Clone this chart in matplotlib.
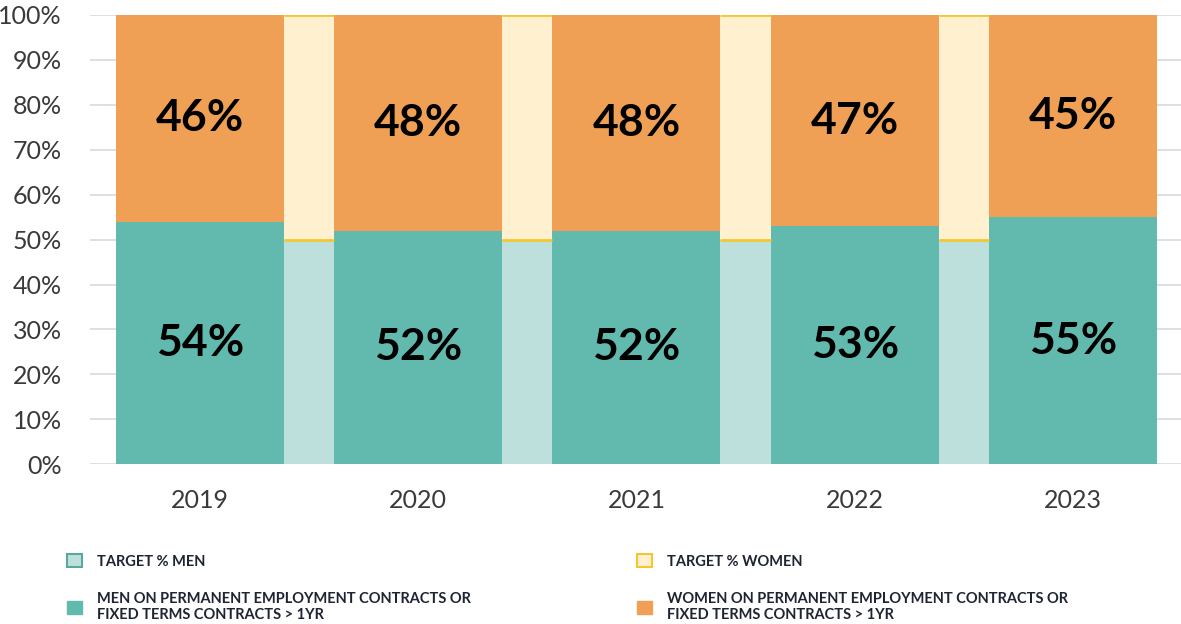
import matplotlib.pyplot as plt
from matplotlib.patches import Patch
import numpy as np

years = ['2019', '2020', '2021', '2022', '2023']
men = [54, 52, 52, 53, 55]
women = [46, 48, 48, 47, 45]
target_men = [50, 50, 50, 50]
target_women = [50, 50, 50, 50]

teal = '#62B9AE'
orange = '#F0A055'
light_teal = '#BDE0DD'
cream = '#FFF1CF'
gold = '#F2C830'

plt.rcParams['font.family'] = ['Lato', 'DejaVu Sans']

fig = plt.figure(figsize=(11.81, 6.24), dpi=100)
ax = fig.add_axes([0.076, 0.256, 0.924, 0.72])

x = np.arange(len(years))
w = 0.77
ax.bar(x, men, w, color=teal, zorder=2)
ax.bar(x, women, w, bottom=men, color=orange, zorder=2)

# target bars sit in the gaps between the years
xt = x[:-1] + 0.5
tw = 1 - w
ax.bar(xt, target_men, tw, color=light_teal, zorder=2)
tbars = ax.bar(xt, target_women, tw, bottom=target_men, color=cream, zorder=2)
for r in tbars:
    x0, x1 = r.get_x(), r.get_x() + r.get_width()
    for yy in (r.get_y(), r.get_y() + r.get_height()):
        ax.plot([x0, x1], [yy, yy], color=gold, lw=2, zorder=3, solid_capstyle='butt')

for i in range(len(years)):
    ax.text(x[i], men[i] / 2, f'{men[i]}%', ha='center', va='center',
            fontsize=32, fontweight='bold', color='black', zorder=4)
    ax.text(x[i], men[i] + women[i] / 2, f'{women[i]}%', ha='center', va='center',
            fontsize=32, fontweight='bold', color='black', zorder=4)

ax.set_xlim(-0.505, 4.495)
ax.set_ylim(0, 100)
ax.set_yticks(range(0, 101, 10))
ax.set_yticklabels([f'{v}%' for v in range(0, 101, 10)])
ax.set_xticks(x)
ax.set_xticklabels(years)
ax.tick_params(axis='both', length=0, labelsize=18, labelcolor='#3a3a3a')
ax.tick_params(axis='x', pad=18)
ax.tick_params(axis='y', pad=20)
ax.grid(axis='y', color='#d9d9d9', lw=1.2, zorder=0)
for s in ax.spines.values():
    s.set_visible(False)

handles = [
    Patch(facecolor=light_teal, edgecolor='#5aa79d', lw=1.5, label='TARGET % MEN'),
    Patch(facecolor=teal, edgecolor=teal, label='MEN ON PERMANENT EMPLOYMENT CONTRACTS OR\nFIXED TERMS CONTRACTS > 1YR'),
    Patch(facecolor=cream, edgecolor=gold, lw=1.5, label='TARGET % WOMEN'),
    Patch(facecolor=orange, edgecolor=orange, label='WOMEN ON PERMANENT EMPLOYMENT CONTRACTS OR\nFIXED TERMS CONTRACTS > 1YR'),
]
leg = fig.legend(handles=handles, ncol=2, loc='lower left', bbox_to_anchor=(0.046, -0.018),
                 frameon=False, prop={'size': 10.5, 'weight': 'bold'},
                 handlelength=1.0, handleheight=1.0, handletextpad=1.0,
                 columnspacing=11.45, labelspacing=1.6)
for t in leg.get_texts():
    t.set_color('#1f2433')

fig.savefig('out.png', dpi=100)
